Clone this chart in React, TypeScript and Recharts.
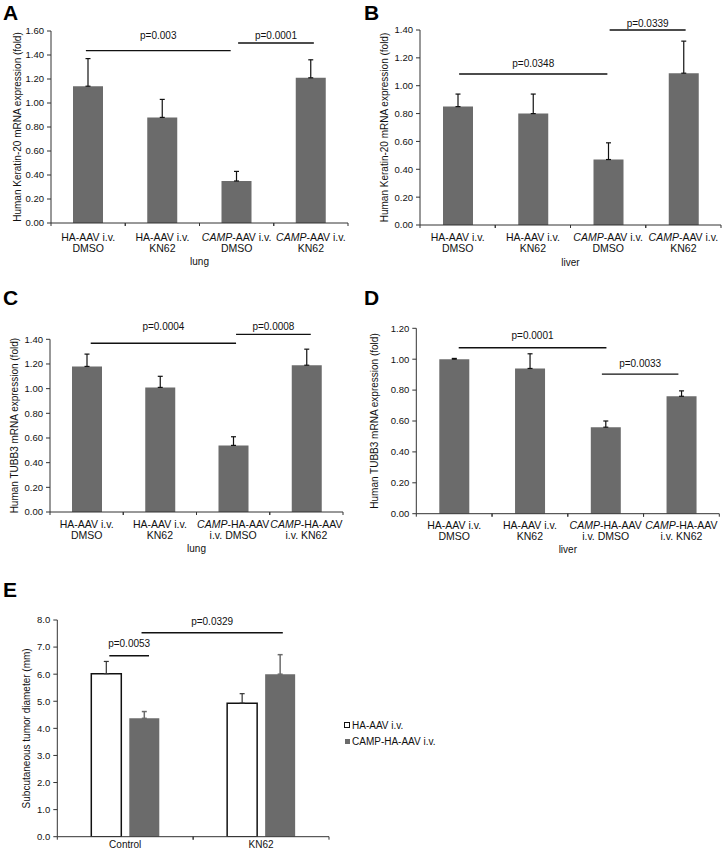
import React from 'react';
import { BarChart, Bar, XAxis, YAxis, ErrorBar, ReferenceLine, Legend } from 'recharts';

const FONT = '"Liberation Sans", Arial, Helvetica, sans-serif';
const AXIS = '#333';
const INK = '#111';
const BAR = '#6b6b6b';

// categories ("|" splits the two label lines)
const catsKrt20 = ['HA-AAV i.v.|DMSO', 'HA-AAV i.v.|KN62', 'CAMP-AAV i.v.|DMSO', 'CAMP-AAV i.v.|KN62'];
const catsTubb3 = ['HA-AAV i.v.|DMSO', 'HA-AAV i.v.|KN62', 'CAMP-HA-AAV|i.v. DMSO', 'CAMP-HA-AAV|i.v. KN62'];
const catsTumor = ['Control', 'KN62'];

// A: keratin-20, lung
const lungKrt20 = [1.14, 0.88, 0.35, 1.21];
const lungKrt20Err = [0.23, 0.15, 0.08, 0.15];
// B: keratin-20, liver
const liverKrt20 = [0.85, 0.8, 0.47, 1.09];
const liverKrt20Err = [0.09, 0.14, 0.12, 0.23];
// C: TUBB3, lung
const lungTubb3 = [1.18, 1.01, 0.54, 1.19];
const lungTubb3Err = [0.1, 0.09, 0.07, 0.13];
// D: TUBB3, liver
const liverTubb3 = [1.0, 0.94, 0.56, 0.76];
const liverTubb3Err = [0.005, 0.095, 0.04, 0.035];
// E: tumor diameter
const tumorHA = [6.02, 4.93];
const tumorHAErr = [0.45, 0.35];
const tumorCAMP = [4.37, 6.0];
const tumorCAMPErr = [0.25, 0.72];
const tumorSeries = ['HA-AAV i.v.', 'CAMP-HA-AAV i.v.'];

// y ticks
const ticks16 = [0, 0.2, 0.4, 0.6, 0.8, 1.0, 1.2, 1.4, 1.6];
const ticks14 = [0, 0.2, 0.4, 0.6, 0.8, 1.0, 1.2, 1.4];
const ticks12 = [0, 0.2, 0.4, 0.6, 0.8, 1.0, 1.2];
const ticks8 = [0, 1, 2, 3, 4, 5, 6, 7, 8];

// significance brackets, x in category units (0..n), y in data units
const sigA = [
  { from: 0.47, to: 2.42, y: 1.436, p: 'p=0.003' },
  { from: 2.52, to: 3.54, y: 1.5, p: 'p=0.0001' },
];
const sigB = [
  { from: 0.52, to: 2.49, y: 1.084, p: 'p=0.0348' },
  { from: 2.52, to: 3.53, y: 1.4, p: 'p=0.0339' },
];
const sigC = [
  { from: 0.556, to: 2.54, y: 1.368, p: 'p=0.0004' },
  { from: 2.54, to: 3.56, y: 1.44, p: 'p=0.0008' },
];
const sigD = [
  { from: 0.56, to: 2.51, y: 1.074, p: 'p=0.0001' },
  { from: 2.45, to: 3.46, y: 0.904, p: 'p=0.0033' },
];
const sigE = [
  { from: 0.383, to: 0.675, y: 6.68, p: 'p=0.0053' },
  { from: 0.62, to: 1.66, y: 7.53, p: 'p=0.0329' },
];

const txt = { fontFamily: FONT, fill: INK };

function withItalic(line: string) {
  if (line.startsWith('CAMP')) {
    return [
      <tspan key="i" fontStyle="italic">CAMP</tspan>,
      <tspan key="r">{line.slice(4)}</tspan>,
    ];
  }
  return line;
}

// category tick: label lines + small ticks at the band edges
function CatTick(props: any) {
  const { x, y, payload, lineDy, half, fontSize } = props;
  const lines = String(payload.value).split('|');
  return (
    <g>
      <line x1={x - half} x2={x - half} y1={y} y2={y + 3} stroke={AXIS} />
      <line x1={x + half} x2={x + half} y1={y} y2={y + 3} stroke={AXIS} />
      {lines.map((ln, i) => (
        <text key={i} x={x} y={y + lineDy + i * 11} textAnchor="middle" fontSize={fontSize} {...txt}>
          {withItalic(ln)}
        </text>
      ))}
    </g>
  );
}

function layout(box: any, plot: any) {
  return {
    margin: { top: plot.y1 - box.top, right: box.left + box.width - plot.x2, left: 2, bottom: 0 },
    yAxisW: plot.x1 - box.left - 2,
    xAxisH: box.top + box.height - plot.y2,
  };
}

function SigLines(sigs: any[], gaps: number[]) {
  return sigs.map((s: any, i: number) => (
    <ReferenceLine
      key={`sig${i}`}
      xAxisId="n"
      segment={[{ x: s.from, y: s.y }, { x: s.to, y: s.y }]}
      stroke={INK}
      strokeWidth={1.3}
      ifOverflow="visible"
      label={{ value: s.p, position: 'top', offset: gaps[i], style: { ...txt, fontSize: 10 } }}
    />
  ));
}

function Panel(props: any) {
  const { box, plot, cats, values, errs, yMax, yTicks, yTitle, yTitleX, xTitle, xTitleGap, tickDy, sigs, sigGaps } = props;
  const data = cats.map((c: string, i: number) => ({ name: c, slot: i + 0.5, value: values[i], err: [0, errs[i]] }));
  const { margin, yAxisW, xAxisH } = layout(box, plot);
  const half = (plot.x2 - plot.x1) / cats.length / 2;

  return (
    <div style={{ position: 'absolute', left: box.left, top: box.top }}>
      <BarChart width={box.width} height={box.height} data={data} margin={margin}>
        <XAxis
          dataKey="name"
          height={xAxisH}
          interval={0}
          tickLine={false}
          tickSize={0}
          tickMargin={0}
          stroke={AXIS}
          tick={<CatTick lineDy={tickDy} half={half} fontSize={10.5} />}
          label={{ value: xTitle, position: 'insideBottom', offset: xTitleGap, style: { ...txt, fontSize: 10 } }}
        />
        <XAxis xAxisId="n" dataKey="slot" type="number" domain={[0, cats.length]} hide allowDataOverflow />
        <YAxis
          width={yAxisW}
          domain={[0, yMax]}
          ticks={yTicks}
          interval={0}
          allowDataOverflow
          stroke={AXIS}
          tickSize={4}
          tickMargin={3}
          tick={{ fontSize: 9.5, ...txt }}
          tickFormatter={(v: number) => v.toFixed(2)}
          label={{
            value: yTitle,
            angle: -90,
            position: 'insideLeft',
            offset: yTitleX - 2,
            style: { ...txt, fontSize: 10, textAnchor: 'middle' },
          }}
        />
        <Bar dataKey="value" fill={BAR} barSize={30} isAnimationActive={false}>
          <ErrorBar dataKey="err" width={2.5} stroke={INK} strokeWidth={1.2} direction="y" />
        </Bar>
        {SigLines(sigs, sigGaps)}
      </BarChart>
    </div>
  );
}

function TumorLegend(props: any) {
  const items = [...(props.payload || [])].sort(
    (a: any, b: any) => tumorSeries.indexOf(a.value) - tumorSeries.indexOf(b.value)
  );
  return (
    <div style={{ fontFamily: FONT, fontSize: 10, color: INK }}>
      {items.map((e: any, i: number) => {
        const outlined = e.payload?.stroke && e.payload.stroke !== 'none';
        return (
          <div key={i} style={{ display: 'flex', alignItems: 'center', height: 16, whiteSpace: 'nowrap' }}>
            <span
              style={{
                display: 'inline-block',
                width: outlined ? 6 : 5,
                height: outlined ? 6 : 5,
                marginLeft: outlined ? 0 : 1,
                marginRight: 2,
                boxSizing: 'border-box',
                background: e.color,
                border: outlined ? `1.5px solid ${e.payload.stroke}` : 'none',
              }}
            />
            {e.value}
          </div>
        );
      })}
    </div>
  );
}

function TumorPanel() {
  const box = { left: 0, top: 575, width: 724, height: 275 };
  const plot = { x1: 57.3, x2: 329, y1: 620, y2: 836.7 };
  const { margin, yAxisW, xAxisH } = layout(box, plot);
  const half = (plot.x2 - plot.x1) / catsTumor.length / 2;
  const data = catsTumor.map((c, i) => ({
    name: c,
    slot: i + 0.5,
    ha: tumorHA[i],
    haErr: [0, tumorHAErr[i]],
    camp: tumorCAMP[i],
    campErr: [0, tumorCAMPErr[i]],
  }));

  return (
    <div style={{ position: 'absolute', left: box.left, top: box.top }}>
      <BarChart width={box.width} height={box.height} data={data} margin={margin} barGap={8}>
        <XAxis
          dataKey="name"
          height={xAxisH}
          interval={0}
          tickLine={false}
          tickSize={0}
          tickMargin={0}
          stroke={AXIS}
          tick={<CatTick lineDy={11.5} half={half} fontSize={10} />}
        />
        <XAxis xAxisId="n" dataKey="slot" type="number" domain={[0, catsTumor.length]} hide allowDataOverflow />
        <YAxis
          width={yAxisW}
          domain={[0, 8]}
          ticks={ticks8}
          interval={0}
          allowDataOverflow
          stroke={AXIS}
          tickSize={4}
          tickMargin={3}
          tick={{ fontSize: 9.5, ...txt }}
          tickFormatter={(v: number) => v.toFixed(1)}
          label={{
            value: 'Subcutaneous  tumor diameter (mm)',
            angle: -90,
            position: 'insideLeft',
            offset: 24,
            style: { ...txt, fontSize: 10, textAnchor: 'middle', whiteSpace: 'pre' },
          }}
        />
        <Legend
          layout="vertical"
          align="center"
          verticalAlign="middle"
          content={<TumorLegend />}
          wrapperStyle={{ left: 344, top: 142, width: 120, height: 32 }}
        />
        <Bar dataKey="ha" name={tumorSeries[0]} fill="#ffffff" stroke={INK} strokeWidth={1.5} barSize={30} isAnimationActive={false}>
          <ErrorBar dataKey="haErr" width={2.5} stroke="#333" strokeWidth={1.2} direction="y" />
        </Bar>
        <Bar dataKey="camp" name={tumorSeries[1]} fill={BAR} barSize={30} isAnimationActive={false}>
          <ErrorBar dataKey="campErr" width={2.5} stroke="#6b6b6b" strokeWidth={1.5} direction="y" />
        </Bar>
        {SigLines(sigE, [9, 7.5])}
      </BarChart>
    </div>
  );
}

const letterStyle: React.CSSProperties = {
  position: 'absolute',
  fontFamily: FONT,
  fontWeight: 'bold',
  fontSize: 21,
  lineHeight: '21px',
  color: '#000',
};

export default function App() {
  return (
    <div style={{ position: 'absolute', left: 0, top: 0, width: 724, height: 850, background: '#fff', overflow: 'hidden' }}>
      <Panel
        box={{ left: 0, top: 0, width: 362, height: 275 }}
        plot={{ x1: 51, x2: 348, y1: 31, y2: 223 }}
        cats={catsKrt20}
        values={lungKrt20}
        errs={lungKrt20Err}
        yMax={1.6}
        yTicks={ticks16}
        yTitle="Human Keratin-20 mRNA expression (fold)"
        yTitleX={17}
        xTitle="lung"
        xTitleGap={10}
        tickDy={17.5}
        sigs={sigA}
        sigGaps={[12, 4.5]}
      />
      <Panel
        box={{ left: 362, top: 0, width: 362, height: 275 }}
        plot={{ x1: 420, x2: 721, y1: 30, y2: 225 }}
        cats={catsKrt20}
        values={liverKrt20}
        errs={liverKrt20Err}
        yMax={1.4}
        yTicks={ticks14}
        yTitle="Human Keratin-20 mRNA expression (fold)"
        yTitleX={22.7}
        xTitle="liver"
        xTitleGap={9}
        tickDy={15.5}
        sigs={sigB}
        sigGaps={[7.5, 3.5]}
      />
      <Panel
        box={{ left: 0, top: 290, width: 362, height: 270 }}
        plot={{ x1: 50, x2: 343, y1: 339.3, y2: 512 }}
        cats={catsTubb3}
        values={lungTubb3}
        errs={lungTubb3Err}
        yMax={1.4}
        yTicks={ticks14}
        yTitle="Human TUBB3 mRNA expression (fold)"
        yTitleX={14.7}
        xTitle="lung"
        xTitleGap={8}
        tickDy={15.5}
        sigs={sigC}
        sigGaps={[13, 4]}
      />
      <Panel
        box={{ left: 362, top: 290, width: 362, height: 270 }}
        plot={{ x1: 416.3, x2: 719.3, y1: 328.3, y2: 513.7 }}
        cats={catsTubb3}
        values={liverTubb3}
        errs={liverTubb3Err}
        yMax={1.2}
        yTicks={ticks12}
        yTitle="Human TUBB3 mRNA expression (fold)"
        yTitleX={12.5}
        xTitle="liver"
        xTitleGap={7}
        tickDy={15}
        sigs={sigD}
        sigGaps={[9, 7.5]}
      />
      <TumorPanel />

      <div style={{ ...letterStyle, left: 3, top: 2 }}>A</div>
      <div style={{ ...letterStyle, left: 364, top: 2 }}>B</div>
      <div style={{ ...letterStyle, left: 3, top: 287 }}>C</div>
      <div style={{ ...letterStyle, left: 364, top: 287 }}>D</div>
      <div style={{ ...letterStyle, left: 3, top: 579 }}>E</div>
    </div>
  );
}
